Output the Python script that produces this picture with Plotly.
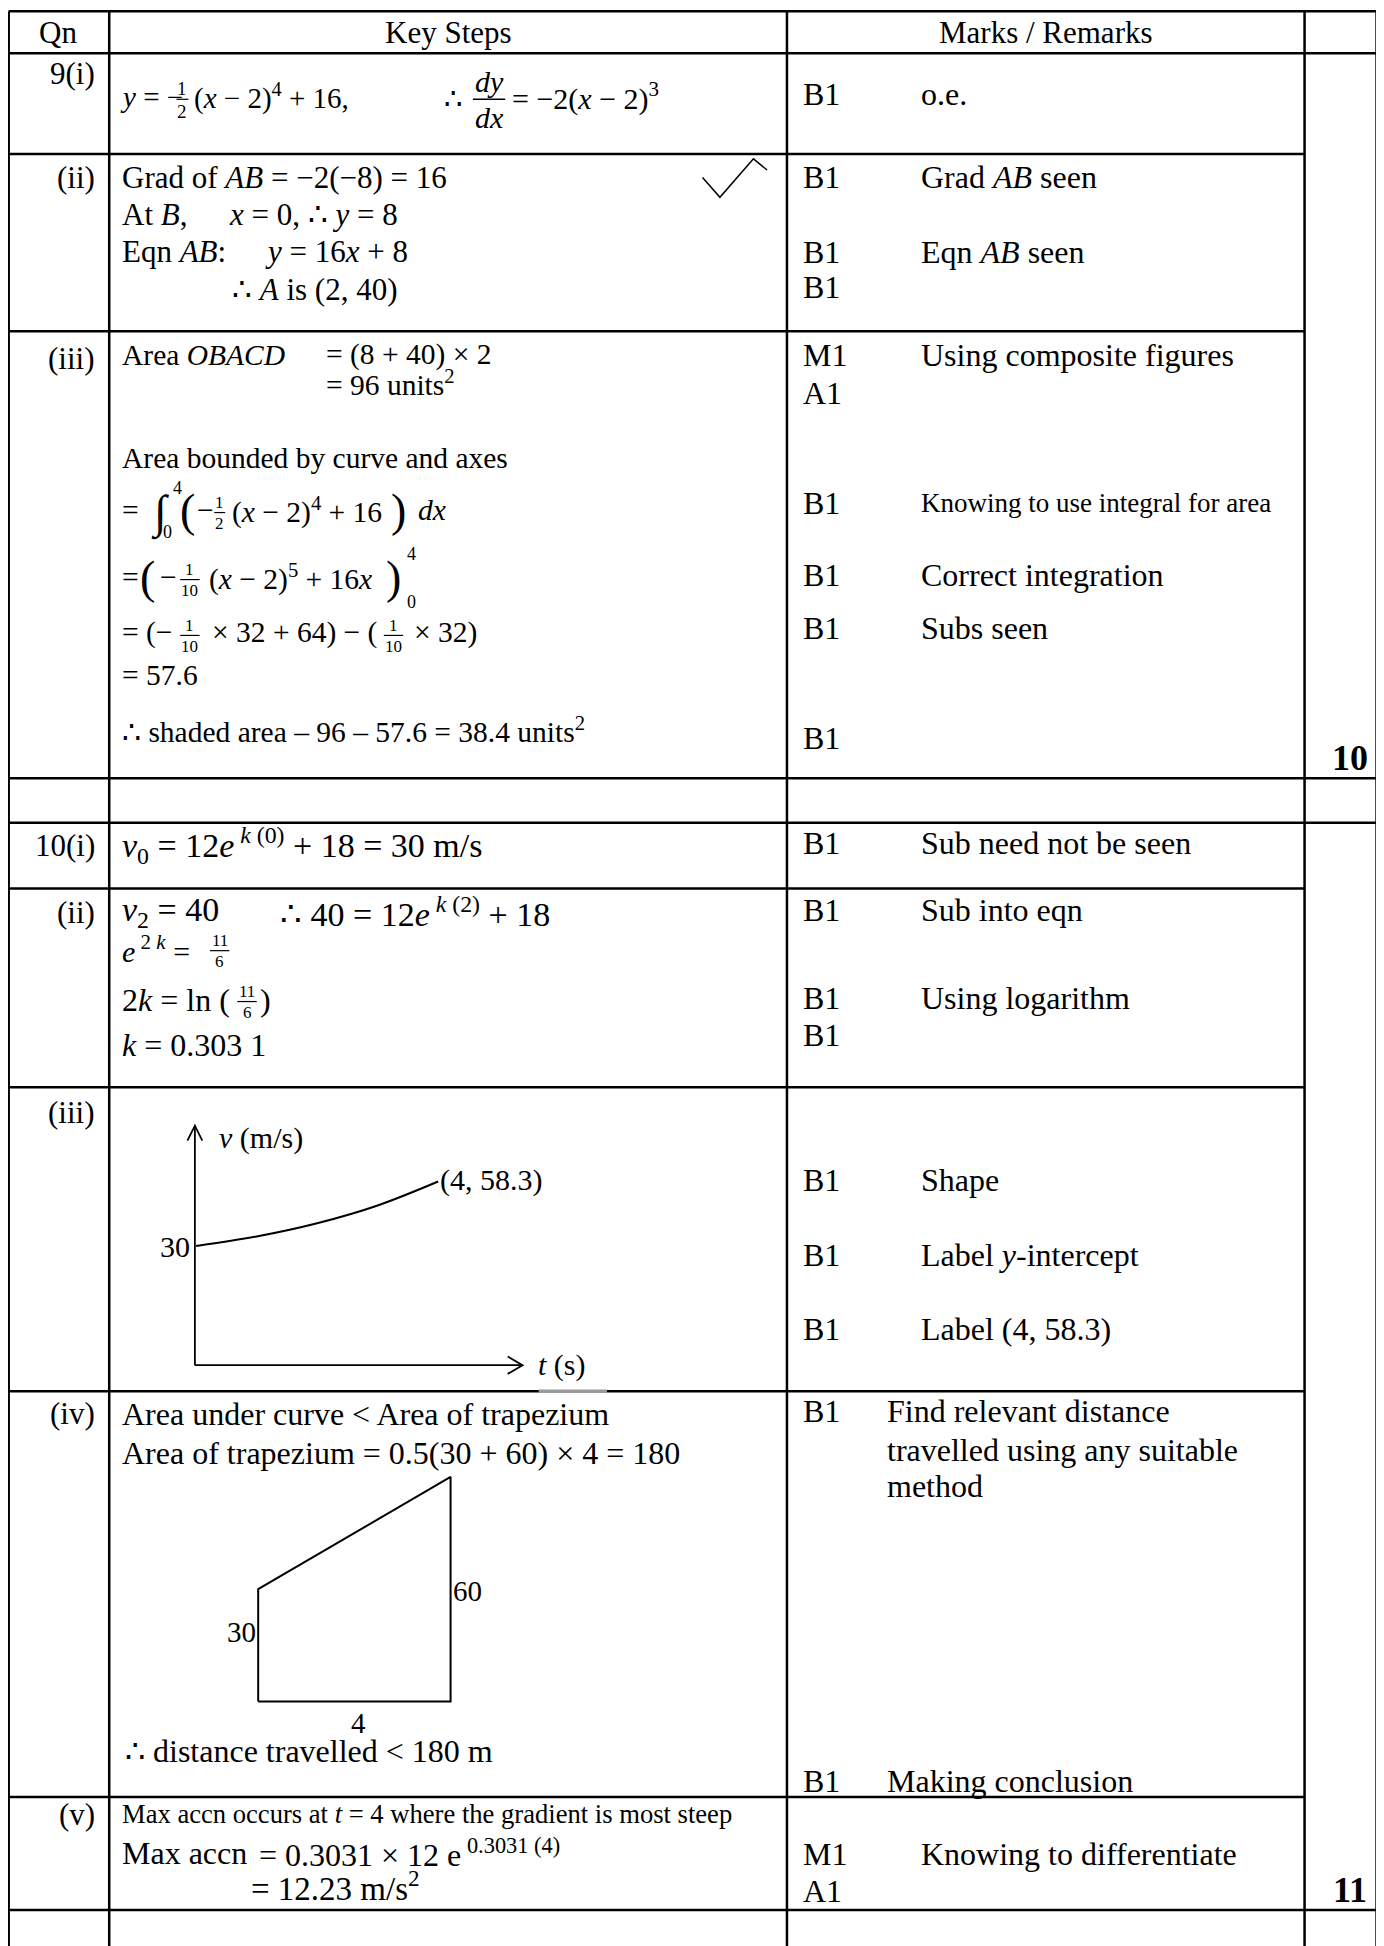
import re
import plotly.graph_objects as go

# working units follow the page at 0.806 scale; the figure itself is 1384 x 1946
W, H = 1115, 1568
OFF = 8 * W / 1384          # the html body adds an 8 px margin; shift back by it
SERIF = "Liberation Serif"

# ---------------- table content ----------------
headers = ["Qn", "Key Steps", "Marks / Remarks"]
qn_labels = ["9(i)", "(ii)", "(iii)", "10(i)", "(ii)", "(iii)", "(iv)", "(v)"]
mark_codes = ["B1", "B1", "B1", "B1", "M1", "A1", "B1", "B1", "B1", "B1",
              "B1", "B1", "B1", "B1", "B1", "B1", "B1", "B1", "B1", "M1", "A1"]
remarks = ["o.e.", "Grad <i>AB</i> seen", "Eqn <i>AB</i> seen", "",
           "Using composite figures", "", "Knowing to use integral for area",
           "Correct integration", "Subs seen", "",
           "Sub need not be seen", "Sub into eqn", "Using logarithm", "",
           "Shape", "Label <i>y</i>-intercept", "Label (4, 58.3)",
           "Find relevant distance", "Making conclusion",
           "Knowing to differentiate", ""]
remark_extra = ["travelled using any suitable", "method"]
totals = ["10", "11"]

# sketch for 10(iii): velocity against time
t_vals = [0, 1, 2, 3, 4]
v_vals = [30, 34.2, 40, 47.8, 58.3]
# trapezium for 10(iv)
trap_t = [0, 0, 4, 4, 0]
trap_v = [0, 30, 60, 0, 0]

fig = go.Figure()
ann = []
shapes = []


def txt(x, y, s, size=31, anchor="left", bold=False, xref="x", yref="y", xshift=0):
    if bold:
        s = "<b>" + s + "</b>"
    ann.append(dict(x=x, y=y, xref=xref, yref=yref, text=s, showarrow=False,
                    xanchor=anchor, yanchor="middle", xshift=xshift,
                    font=dict(family=SERIF, size=size, color="black")))


def frac(x, y, num, den, size=18, gap=9, lw=1.2):
    txt(x, y - gap, num, size, "center")
    txt(x, y + gap + 1, den, size, "center")
    n = max(len(re.sub("<[^>]+>", "", num)), len(re.sub("<[^>]+>", "", den)))
    half = n * size * 0.2 + 1
    shapes.append(dict(type="line", x0=x - half, x1=x + half, y0=y, y1=y,
                       line=dict(color="black", width=lw)))


def hline(y, x0, x1, w=2.5, color="black"):
    shapes.append(dict(type="line", x0=x0, x1=x1, y0=y, y1=y,
                       line=dict(color=color, width=w)))


def vline(x, y0, y1, w=2.5):
    shapes.append(dict(type="line", x0=x, x1=x, y0=y0, y1=y1,
                       line=dict(color="black", width=w)))


def path(pts, w=1.6, color="black"):
    d = "M " + " L ".join(f"{a},{b}" for a, b in pts)
    shapes.append(dict(type="path", path=d, line=dict(color=color, width=w)))


# ---------------- grid ----------------
cols = [7, 88, 634, 1051, 1109]
for cx in cols:
    vline(cx, 9, H + 10)
for ry in [9, 43, 627, 663, 1539]:
    hline(ry, cols[0], cols[-1])
for ry in [124, 267, 716, 876, 1121, 1448]:
    hline(ry, cols[0], cols[3])
hline(1121, 434, 489, w=3.5, color="#9a9a9a")

# ---------------- header ----------------
for h, cx in zip(headers, [47, 361, 843]):
    txt(cx, 26, h, 31, "center")

# ---------------- Qn column ----------------
for lab, y in zip(qn_labels, [59, 143, 289, 681, 735, 896, 1139, 1462]):
    txt(78, y, lab, 31, "right")

# ---------------- marks column ----------------
mark_y = [76, 143, 203, 231, 286, 317, 405, 463, 506, 595,
          679, 733, 804, 834, 951, 1011, 1071, 1137, 1435, 1494, 1524]
for i, (code, rem, y) in enumerate(zip(mark_codes, remarks, mark_y)):
    txt(645, y, code, 32)
    if rem:
        rx = 713 if i in (17, 18) else 740
        txt(rx, y, rem, 27 if i == 6 else 32)
for rem, y in zip(remark_extra, [1168, 1197]):
    txt(713, y, rem, 32)
for tot, y in zip(totals, [611, 1523]):
    txt(1088, y, tot, 36, "center", bold=True)

# ---------------- 9(i) ----------------
txt(95, 78, "<i>y</i> = −", 29)
frac(147, 80, "1", "2", 19)
txt(155, 78, "(<i>x</i> − 2)<sup>4</sup> + 16,", 29)
txt(356, 80, "∴", 29)
frac(394, 80, "<i>dy</i>", "<i>dx</i>", 30, gap=14, lw=1.4)
txt(411, 78, "= −2(<i>x</i> − 2)<sup>3</sup>", 30)

# ---------------- 9(ii) ----------------
txt(97, 143, "Grad of <i>AB</i> = −2(−8) = 16", 31)
txt(97, 173, "At <i>B</i>,", 31)
txt(183, 173, "<i>x</i> = 0, ∴ <i>y</i> = 8", 31)
txt(97, 203, "Eqn <i>AB</i>:", 31)
txt(212, 203, "<i>y</i> = 16<i>x</i> + 8", 31)
txt(185, 233, "∴ <i>A</i> is (2, 40)", 31)
path([(566, 143), (580, 159), (607, 128), (618, 137)], w=1.5)

# ---------------- 9(iii) ----------------
F3 = 29.5
txt(97, 286, "Area <i>OBACD</i>", F3)
txt(261, 286, "= (8 + 40) × 2", F3)
txt(261, 309, "= 96 units<sup>2</sup>", F3)
txt(97, 369, "Area bounded by curve and axes", F3)

txt(97, 411, "=", F3)
txt(120, 413, "∫", 46)
txt(138, 393, "4", 18)
txt(130, 429, "0", 18)
txt(143, 411, "(", 46)
txt(157, 411, "−", F3)
frac(177, 413, "1", "2", 17, gap=8)
txt(185, 411, "(<i>x</i> − 2)<sup>4</sup> + 16", F3)
txt(313, 411, ")", 46)
txt(335, 411, "<i>dx</i>", F3)

txt(97, 465, "=", F3)
txt(111, 465, "(", 46)
txt(127, 465, "−", F3)
frac(153, 467, "1", "10", 17, gap=8)
txt(167, 465, "(<i>x</i> − 2)<sup>5</sup> + 16<i>x</i>", F3)
txt(309, 465, ")", 46)
txt(326, 446, "4", 18)
txt(326, 485, "0", 18)

txt(97, 510, "= (−", F3)
frac(153, 512, "1", "10", 17, gap=8)
txt(169, 510, "× 32 + 64) − (", F3)
frac(317, 512, "1", "10", 17, gap=8)
txt(332, 510, "× 32)", F3)
txt(97, 544, "= 57.6", F3)
txt(97, 588, "∴ shaded area – 96 – 57.6 = 38.4 units<sup>2</sup>", F3)

# ---------------- 10(i), (ii) ----------------
txt(97, 681, "<i>v</i><sub>0</sub> = 12<i>e</i><sup> <i>k</i> (0)</sup> + 18 = 30 m/s", 34)
txt(97, 735, "<i>v</i><sub>2</sub> = 40", 34)
txt(224, 735, "∴ 40 = 12<i>e</i><sup> <i>k</i> (2)</sup> + 18", 34)
txt(97, 765, "<i>e</i><sup> 2 <i>k</i></sup> =", 30)
frac(177, 766, "11", "6", 17, gap=8)
txt(97, 806, "2<i>k</i> = ln (", 32)
frac(199, 807, "11", "6", 17, gap=8)
txt(208, 806, ")", 32)
txt(97, 842, "<i>k</i> = 0.303 1", 32)

# ---------------- 10(iii) sketch ----------------
ox, oy = 157, 1100
path([(ox, oy), (ox, 907)], w=1.8)
path([(151, 919), (ox, 907), (163, 919)], w=1.8)
path([(ox, oy), (421, oy)], w=1.8)
path([(409, oy - 7), (421, oy), (409, oy + 7)], w=1.8)
txt(175, 917, "<i>v</i> (m/s)", 30)
txt(432, 1100, "<i>t</i> (s)", 30)


def lin(p0, p1, pa, va, pb, vb):
    k = (vb - va) / (pb - pa)
    return [va + (p0 - pa) * k, va + (p1 - pa) * k]


def xdom(p0, p1):
    return [(p0 - OFF) / W, (p1 - OFF) / W]


def ydom(p_bottom, p_top):
    return [1 - (p_bottom - OFF) / H, 1 - (p_top - OFF) / H]


fig.add_trace(go.Scatter(x=t_vals, y=v_vals, xaxis="x2", yaxis="y2", mode="lines",
                         line=dict(color="black", width=2, shape="spline"),
                         hoverinfo="skip"))
txt(t_vals[0], v_vals[0], "30", 30, "right", xref="x2", yref="y2", xshift=-4)
txt(t_vals[-1], v_vals[-1] + 0.5, f"({t_vals[-1]}, {v_vals[-1]})", 30, "left",
    xref="x2", yref="y2")

# ---------------- 10(iv) ----------------
txt(97, 1139, "Area under curve &lt; Area of trapezium", 32)
txt(97, 1171, "Area of trapezium = 0.5(30 + 60) × 4 = 180", 32)
fig.add_trace(go.Scatter(x=trap_t, y=trap_v, xaxis="x3", yaxis="y3", mode="lines",
                         line=dict(color="black", width=2), hoverinfo="skip"))
txt(4, 29.5, "60", 29, "left", xref="x3", yref="y3")
txt(0, 18.5, "30", 29, "right", xref="x3", yref="y3")
txt(289, 1388, "4", 29, "center")
txt(99, 1411, "∴ distance travelled &lt; 180 m", 32)

# ---------------- 10(v) ----------------
txt(97, 1462, "Max accn occurs at <i>t</i> = 4 where the gradient is most steep", 26.6)
txt(97, 1493, "Max accn", 32)
txt(207, 1493, "= 0.3031 × 12 e<sup> 0.3031 (4)</sup>", 32)
txt(201, 1520, "= 12.23 m/s<sup>2</sup>", 33)

# ---------------- layout ----------------
hidden = dict(visible=False, showgrid=False, zeroline=False, fixedrange=True)
fig.update_layout(
    width=1384, height=1946,
    margin=dict(l=0, r=0, t=0, b=0),
    paper_bgcolor="white", plot_bgcolor="white",
    showlegend=False,
    xaxis=dict(range=[OFF, W + OFF], domain=[0, 1], **hidden),
    yaxis=dict(range=[H + OFF, OFF], domain=[0, 1], **hidden),
    xaxis2=dict(range=lin(150, 440, 158, 0, 353, 4), domain=xdom(150, 440),
                anchor="y2", **hidden),
    yaxis2=dict(range=lin(1105, 900, 1004, 30, 952, 58.3),
                domain=ydom(1105, 900), anchor="x2", **hidden),
    xaxis3=dict(range=lin(195, 375, 208, 0, 363, 4), domain=xdom(195, 375),
                anchor="y3", **hidden),
    yaxis3=dict(range=lin(1380, 1180, 1371, 0, 1190, 60),
                domain=ydom(1380, 1180), anchor="x3", **hidden),
    annotations=ann,
    shapes=shapes,
)

fig.write_html("out.html")
